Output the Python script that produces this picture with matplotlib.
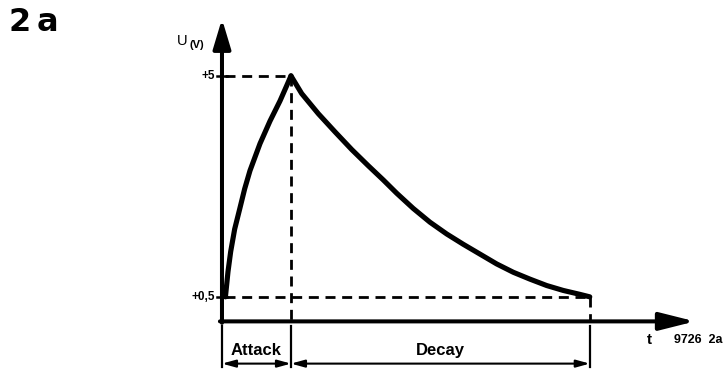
import matplotlib
matplotlib.use("Agg")
import matplotlib.pyplot as plt

# Envelope levels (volts) and phase boundaries (time units)
u_peak = 5.0
u_low = 0.5
t_attack_end = 1.0
t_decay_end = 5.33

# Attack phase: charging curve (t, U)
attack_t = [0.05, 0.087, 0.126, 0.184, 0.257, 0.329, 0.406, 0.551, 0.696,
            0.841, 0.938, 1.0]
attack_u = [0.5, 1.01, 1.42, 1.88, 2.29, 2.70, 3.07, 3.62, 4.08,
            4.49, 4.80, 5.0]

# Decay phase: discharge curve (t, U)
decay_t = [1.0, 1.155, 1.396, 1.638, 1.880, 2.120, 2.338, 2.532, 2.772,
           3.014, 3.257, 3.497, 3.739, 3.981, 4.222, 4.464, 4.706, 4.946,
           5.188, 5.33]
decay_u = [5.0, 4.64, 4.23, 3.86, 3.50, 3.17, 2.88, 2.61, 2.30,
           2.02, 1.78, 1.57, 1.37, 1.17, 1.00, 0.86, 0.73, 0.63,
           0.55, 0.5]

y_ticks = [u_peak, u_low]
y_tick_labels = ["+5", "+0,5"]
phase_labels = ["Attack", "Decay"]

plt.rcParams["font.family"] = ["Liberation Sans", "DejaVu Sans"]

fig = plt.figure(figsize=(7.25, 3.7), dpi=100)
ax = fig.add_axes([0, 0, 1, 1])
ax.set_xlim(-3.217, 7.29)
ax.set_ylim(-0.99, 6.545)
ax.axis("off")

# Axes with arrowheads
ax.annotate("", xy=(0, 6.16), xytext=(0, -0.03),
            arrowprops=dict(arrowstyle="-|>,head_length=18,head_width=5.4",
                            mutation_scale=1, lw=2.9, color="black",
                            shrinkA=0, shrinkB=0))
ax.annotate("", xy=(6.855, 0), xytext=(-0.03, 0),
            arrowprops=dict(arrowstyle="-|>,head_length=21.5,head_width=5.4",
                            mutation_scale=1, lw=2.9, color="black",
                            shrinkA=0, shrinkB=0))

# Tick marks and labels on the voltage axis
for yv, lab in zip(y_ticks, y_tick_labels):
    ax.plot([-0.075, 0.075], [yv, yv], color="black", lw=1.8)
    ax.text(-0.1, yv, lab, ha="right", va="center", fontsize=8.5,
            fontweight="bold")

# Dashed guide lines
dash = dict(color="black", lw=2, linestyle=(0, (3.6, 2.4)))
ax.plot([0.05, t_attack_end], [u_peak, u_peak], **dash)
ax.plot([0.05, t_decay_end], [u_low, u_low], **dash)
ax.plot([t_attack_end, t_attack_end], [u_peak, -0.1], **dash)
ax.plot([t_decay_end, t_decay_end], [u_low, 0.0], **dash)

# Envelope curve
curve = dict(color="black", lw=3.7, solid_joinstyle="round",
             solid_capstyle="round")
ax.plot(attack_t, attack_u, **curve)
ax.plot(decay_t, decay_u, **curve)

# Phase brackets below the time axis
y_br = -0.86
for tx in [0, t_attack_end, t_decay_end]:
    ax.plot([tx, tx], [-0.1, -0.93], color="black", lw=1.6)
for (a, b), lab in zip([(0, t_attack_end), (t_attack_end, t_decay_end)],
                       phase_labels):
    ax.annotate("", xy=(b, y_br), xytext=(a, y_br),
                arrowprops=dict(arrowstyle="<|-|>,head_length=8,head_width=2.2",
                                mutation_scale=1, lw=1.5, color="black",
                                shrinkA=0, shrinkB=0))
    ax.text((a + b) / 2, -0.6, lab, ha="center", va="center", fontsize=12,
            fontweight="bold")

# Axis names and figure labels
ax.text(-0.652, 5.71, "U", ha="left", va="center", fontsize=10.5)
ax.text(-0.47, 5.63, "(V)", ha="left", va="center", fontsize=8,
        fontweight="bold")
ax.text(6.2, -0.37, "t", ha="center", va="center", fontsize=11,
        fontweight="bold")
ax.text(6.55, -0.37, "9726  2a", ha="left", va="center", fontsize=9,
        fontweight="bold")
fig.text(0.012, 0.94, "2", ha="left", va="center", fontsize=23,
         fontweight="heavy", family="DejaVu Sans")
fig.text(0.05, 0.94, "a", ha="left", va="center", fontsize=23,
         fontweight="heavy", family="DejaVu Sans")

fig.savefig("out.png", dpi=100)
